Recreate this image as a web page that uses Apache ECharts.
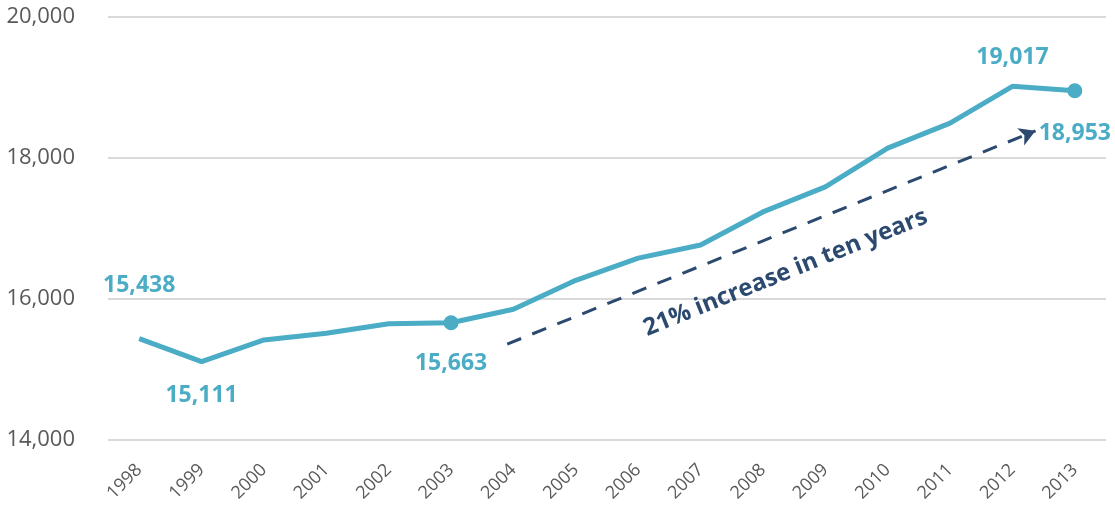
<!DOCTYPE html>
<html>
<head>
<meta charset="utf-8">
<script src="https://cdn.jsdelivr.net/npm/echarts@6/dist/echarts.min.js"></script>
<style>
html,body{margin:0;padding:0;background:#fff;}
#chart{width:1115px;height:506px;}
</style>
</head>
<body>
<div id="chart"></div>
<script>
// ---- data ----
const years = ['1998','1999','2000','2001','2002','2003','2004','2005','2006','2007','2008','2009','2010','2011','2012','2013'];
const values = [15438,15111,15420,15515,15650,15663,15855,16265,16580,16765,17235,17590,18140,18495,19017,18953];
const yTicks = [14000,16000,18000,20000];
const arrowFrom = [5.9, 15360];
const arrowTo = [14.37, 18385];
const annotationText = '21% increase in ten years';

// ---- styling per point (not data) ----
const labelCfg = {
  0: {position:'top', distance:42},
  1: {position:'bottom', distance:22},
  5: {position:'bottom', distance:22},
  14: {position:'top', distance:17},
  15: {position:'bottom', distance:24}
};
const markerIdx = [5, 15];

const teal = '#4bacc6';
const navy = '#2c4a70';
const fontFam = '"Open Sans", "Noto Sans", sans-serif';

const seriesData = values.map((v, i) => {
  const item = { value: v, symbol: 'circle' };
  item.symbolSize = markerIdx.includes(i) ? 15 : 0.01;
  if (labelCfg[i]) {
    item.label = Object.assign({ show: true }, labelCfg[i]);
  }
  return item;
});

const chart = echarts.init(document.getElementById('chart'));
chart.setOption({
  animation: false,
  backgroundColor: '#ffffff',
  grid: { left: 108, right: 9, top: 17, bottom: 66, containLabel: false },
  xAxis: [{
    type: 'category',
    data: years,
    boundaryGap: true,
    axisLine: { show: false },
    axisTick: { show: false },
    axisLabel: { rotate: 45, fontSize: 18, color: '#595959', fontFamily: fontFam, margin: 27 }
  }, {
    type: 'value', min: -0.5, max: 15.5, show: false
  }],
  yAxis: {
    type: 'value',
    min: yTicks[0], max: yTicks[yTicks.length - 1], interval: 2000,
    axisLine: { show: false },
    axisTick: { show: false },
    splitLine: { lineStyle: { color: '#d9d9d9', width: 2 } },
    axisLabel: {
      fontSize: 22, color: '#595959', fontFamily: fontFam, margin: 33,
      formatter: v => v.toLocaleString('en-US')
    }
  },
  series: [{
    type: 'line',
    data: seriesData,
    showAllSymbol: true,
    lineStyle: { color: teal, width: 5 },
    itemStyle: { color: teal },
    label: {
      show: false, color: teal, fontSize: 23, fontWeight: 'bold', fontFamily: fontFam,
      formatter: p => p.value.toLocaleString('en-US')
    },
    z: 3
  }, {
    type: 'line',
    xAxisIndex: 1,
    data: [],
    markLine: {
      silent: true,
      symbol: ['none', 'arrow'],
      symbolSize: [14, 16],
      lineStyle: { color: navy, width: 3, type: [15, 12] },
      label: {
        show: true,
        position: 'insideMiddleBottom',
        distance: 26,
        formatter: annotationText,
        color: navy, fontSize: 24, fontWeight: 'bold', fontFamily: fontFam
      },
      data: [[{ coord: arrowFrom }, { coord: arrowTo }]]
    }
  }]
});
</script>
</body>
</html>
